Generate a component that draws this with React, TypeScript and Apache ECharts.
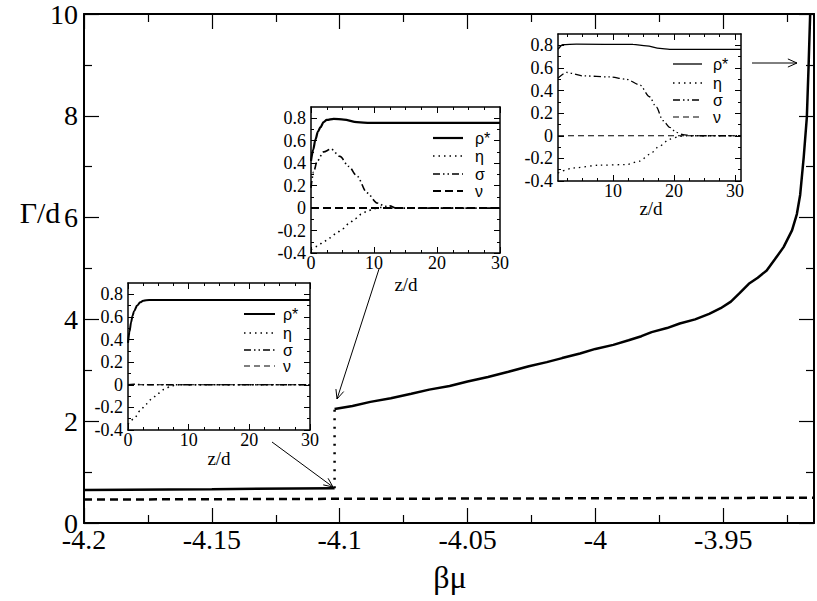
import React, { useEffect, useRef } from 'react';
import * as echarts from 'echarts';

// ---------- main plot data ----------
const MAIN_X_MAJOR = [-4.2, -4.15, -4.1, -4.05, -4, -3.95];
const MAIN_X_MINOR = [-4.175, -4.125, -4.075, -4.025, -3.975, -3.925];
const MAIN_Y_MAJOR = [0, 2, 4, 6, 8, 10];
const MAIN_Y_MINOR = [1, 3, 5, 7, 9];

const lowBranchMu = [-4.2, -4.15, -4.102];
const lowBranchG = [0.65, 0.665, 0.685];

const jumpMu = [-4.102, -4.102];
const jumpG = [0.685, 2.24];

const highBranchMu = [
  -4.102, -4.095, -4.088, -4.08, -4.072, -4.065, -4.057, -4.05, -4.042, -4.034,
  -4.026, -4.019, -4.013, -4.006, -4.0, -3.993, -3.987, -3.982, -3.978, -3.972,
  -3.967, -3.961, -3.9555, -3.951, -3.947, -3.9435, -3.94, -3.9365, -3.933, -3.9298,
  -3.9264, -3.9231, -3.9212, -3.9199, -3.9185, -3.9173, -3.9166, -3.916,
];
const highBranchG = [
  2.24, 2.3, 2.38, 2.45, 2.54, 2.62, 2.69, 2.78, 2.87, 2.97,
  3.08, 3.16, 3.24, 3.33, 3.42, 3.5, 3.59, 3.67, 3.75, 3.83,
  3.92, 4.0, 4.11, 4.22, 4.35, 4.52, 4.7, 4.82, 4.96, 5.18,
  5.42, 5.75, 6.07, 6.45, 7.2, 7.97, 9.0, 10,
];

const dashedMu = [-4.2, -4.1, -4.0, -3.9145];
const dashedG = [0.46, 0.475, 0.485, 0.497];

// ---------- inset axes ----------
const INSET_Y_MAJOR = [-0.4, -0.2, 0, 0.2, 0.4, 0.6, 0.8];
const INSET_Y_MINOR = [-0.3, -0.1, 0.1, 0.3, 0.5, 0.7];
const INSET_X_MAJOR = [0, 10, 20, 30];
const INSET_X_MINOR = [2.5, 5, 7.5, 12.5, 15, 17.5, 22.5, 25, 27.5];

// ---------- inset 1 (low branch) ----------
const in1RhoZ = [0, 0.25, 0.5, 0.75, 1, 1.5, 2, 2.5, 3, 4, 30];
const in1Rho = [0.37, 0.47, 0.55, 0.61, 0.65, 0.7, 0.73, 0.742, 0.748, 0.75, 0.75];
const in1EtaZ = [0, 1, 2, 3, 4, 5, 6, 7, 8, 30];
const in1Eta = [-0.35, -0.3, -0.23, -0.17, -0.12, -0.075, -0.04, -0.015, 0, 0];
const in1SigZ = [0, 1, 3, 30];
const in1Sig = [0, 0.004, 0, 0];
const in1NuZ = [0, 30];
const in1Nu = [0, 0];

// ---------- inset 2 (just after jump) ----------
const in2RhoZ = [0, 0.35, 0.7, 1.1, 1.5, 2, 2.5, 3.6, 5.2, 7.3, 9.4, 30];
const in2Rho = [0.42, 0.52, 0.61, 0.68, 0.72, 0.765, 0.785, 0.795, 0.788, 0.765, 0.758, 0.758];
const in2SigZ = [0, 0.4, 1, 2, 3.2, 4.6, 6, 7.3, 8.9, 10.5, 11.8, 12.5, 13.5, 30];
const in2Sig = [0.18, 0.32, 0.42, 0.5, 0.525, 0.46, 0.37, 0.285, 0.135, 0.045, 0.015, 0.02, 0, 0];
const in2EtaZ = [0, 1, 2, 3, 4, 5, 6, 7, 8, 9, 10, 11, 12, 30];
const in2Eta = [-0.37, -0.34, -0.3, -0.265, -0.225, -0.185, -0.14, -0.095, -0.055, -0.025, -0.005, 0.005, 0, 0];
const in2NuZ = [0, 30];
const in2Nu = [0, 0];

// ---------- inset 3 (near divergence) ----------
const in3RhoZ = [1, 1.8, 4, 13.3, 15.5, 17.7, 19.3, 31];
const in3Rho = [0.764, 0.805, 0.81, 0.808, 0.795, 0.772, 0.764, 0.764];
const in3SigZ = [1, 2.4, 5.1, 9.5, 12.2, 14.4, 16, 17.1, 18.2, 19.3, 20.4, 21.5, 22.8, 31];
const in3Sig = [0.51, 0.56, 0.53, 0.52, 0.5, 0.45, 0.345, 0.255, 0.135, 0.075, 0.03, 0.01, 0, 0];
const in3EtaZ = [1, 3.5, 7.8, 12.2, 14.4, 16, 17.7, 19.3, 21, 22.5, 31];
const in3Eta = [-0.33, -0.285, -0.26, -0.255, -0.225, -0.165, -0.09, -0.03, -0.006, 0, 0];
const in3NuZ = [1, 31];
const in3Nu = [0, 0];

const LEGEND_NAMES = ['ρ*', 'η', 'σ', 'ν'];

const AXIS_FONT = 'serif';
const TITLE_FONT = 'Times New Roman';
const SANS = 'Liberation Sans';

const DOT = [1.5, 4];
const DASHDOTDOT = [7, 3, 1.5, 3, 1.5, 3];
const DASH = [6, 4];

const zip = (a: number[], b: number[]) => a.map((v, i) => [v, b[i]]);

const AX_PER_GRID = 5;

function axesFor(grid: number, c: any) {
  const line = { show: true, onZero: false, lineStyle: { color: '#000', width: c.lw } };
  const noLine = { show: false, onZero: false };
  const noTick = { show: false };
  const tick = (vals: number[], len: number) => ({
    show: true, inside: true, length: len, customValues: vals,
    lineStyle: { color: '#000', width: c.tw },
  });
  const label = (keep: number[], margin: number) => ({
    show: true, margin, fontFamily: AXIS_FONT, fontSize: c.fs, color: '#000',
    formatter: (v: number) => (keep.some((k) => Math.abs(k - v) < 1e-9) ? String(v) : ''),
  });
  const noLabel = { show: false };
  const base = { type: 'value', gridIndex: grid, splitLine: { show: false } };
  const xb = { ...base, min: c.xMin, max: c.xMax };
  const yb = { ...base, min: c.yMin, max: c.yMax };
  const xs = [
    { ...xb, interval: c.xStep, position: 'bottom', axisLine: line, axisTick: noTick, axisLabel: label(c.xMajor, c.xMargin) },
    { ...xb, position: 'bottom', axisLine: noLine, axisTick: tick(c.xMajor, c.tMaj), axisLabel: noLabel },
    { ...xb, position: 'bottom', axisLine: noLine, axisTick: tick(c.xMinor, c.tMin), axisLabel: noLabel },
    { ...xb, position: 'top', axisLine: line, axisTick: tick(c.xMajor, c.tMaj), axisLabel: noLabel },
    { ...xb, position: 'top', axisLine: noLine, axisTick: tick(c.xMinor, c.tMin), axisLabel: noLabel },
  ];
  const ys = [
    { ...yb, interval: c.yStep, position: 'left', axisLine: line, axisTick: noTick, axisLabel: label(c.yMajor, c.yMargin) },
    { ...yb, position: 'left', axisLine: noLine, axisTick: tick(c.yMajor, c.tMaj), axisLabel: noLabel },
    { ...yb, position: 'left', axisLine: noLine, axisTick: tick(c.yMinor, c.tMin), axisLabel: noLabel },
    { ...yb, position: 'right', axisLine: line, axisTick: tick(c.yMajor, c.tMaj), axisLabel: noLabel },
    { ...yb, position: 'right', axisLine: noLine, axisTick: tick(c.yMinor, c.tMin), axisLabel: noLabel },
  ];
  return { xs, ys };
}

function lineSeries(grid: number, data: number[][], width: number, type: any, smooth: number | boolean) {
  const idx = grid * AX_PER_GRID;
  return {
    type: 'line', xAxisIndex: idx, yAxisIndex: idx, data, symbol: 'none', showSymbol: false,
    smooth, smoothMonotone: 'x', silent: true, animation: false,
    lineStyle: { color: '#000', width, type, cap: 'butt' },
  };
}

function arrow(x1: number, y1: number, x2: number, y2: number) {
  const ang = Math.atan2(y2 - y1, x2 - x1);
  const L = 10, a = 0.42;
  const p1 = [x2 - L * Math.cos(ang - a), y2 - L * Math.sin(ang - a)];
  const p2 = [x2 - L * Math.cos(ang + a), y2 - L * Math.sin(ang + a)];
  return [
    { type: 'line', z: 100, shape: { x1, y1, x2, y2 }, style: { stroke: '#000', lineWidth: 1 } },
    { type: 'polyline', z: 100, shape: { points: [p1, [x2, y2], p2] }, style: { stroke: '#000', fill: null, lineWidth: 1 } },
  ];
}

function legend(x1: number, x2: number, tx: number, rows: number[], styles: any[], fs: number) {
  const els: any[] = [];
  rows.forEach((y, i) => {
    els.push({
      type: 'line', z: 100, shape: { x1, y1: y, x2, y2: y },
      style: { stroke: '#000', lineWidth: styles[i].w, lineDash: styles[i].dash || null },
    });
    els.push({
      type: 'text', z: 100, x: tx, y,
      style: { text: LEGEND_NAMES[i], fontFamily: SANS, fontSize: fs, fill: '#000', align: 'left', verticalAlign: 'middle' },
    });
  });
  return els;
}

function title(text: string, x: number, y: number, fs: number) {
  return { type: 'text', x, y, style: { text, fontFamily: TITLE_FONT, fontSize: fs, fill: '#000', align: 'center', verticalAlign: 'middle' } };
}

function buildOption() {
  const main = axesFor(0, {
    xMin: -4.2, xMax: -3.9145, xStep: 0.05, yMin: 0, yMax: 10, yStep: 2,
    xMajor: MAIN_X_MAJOR, xMinor: MAIN_X_MINOR, yMajor: MAIN_Y_MAJOR, yMinor: MAIN_Y_MINOR,
    lw: 2, tw: 1.2, tMaj: 15, tMin: 8, fs: 28, xMargin: 2, yMargin: 6,
  });
  const insetCfg = (xMin: number, xMax: number, xStep: number) => ({
    xMin, xMax, xStep, yMin: -0.4, yMax: 0.9, yStep: 0.2,
    xMajor: INSET_X_MAJOR, xMinor: INSET_X_MINOR, yMajor: INSET_Y_MAJOR, yMinor: INSET_Y_MINOR,
    lw: 1.5, tw: 1, tMaj: 6, tMin: 3, fs: 18, xMargin: 1, yMargin: 5,
  });
  const in1 = axesFor(1, insetCfg(0, 30, 10));
  const in2 = axesFor(2, insetCfg(0, 30, 10));
  const in3 = axesFor(3, insetCfg(1, 31, 1));

  const series = [
    lineSeries(0, zip(lowBranchMu, lowBranchG), 2.5, 'solid', false),
    lineSeries(0, zip(jumpMu, jumpG), 2.5, [2, 6.5], false),
    lineSeries(0, zip(highBranchMu, highBranchG), 2.5, 'solid', false),
    lineSeries(0, zip(dashedMu, dashedG), 2.5, [8, 5], false),

    lineSeries(1, zip(in1RhoZ, in1Rho), 2, 'solid', 0.3),
    lineSeries(1, zip(in1EtaZ, in1Eta), 1.5, DOT, 0.3),
    lineSeries(1, zip(in1SigZ, in1Sig), 1.5, DASHDOTDOT, 0.3),
    lineSeries(1, zip(in1NuZ, in1Nu), 1.2, DASH, false),

    lineSeries(2, zip(in2RhoZ, in2Rho), 2.2, 'solid', 0.3),
    lineSeries(2, zip(in2EtaZ, in2Eta), 1.6, DOT, 0.3),
    lineSeries(2, zip(in2SigZ, in2Sig), 1.6, DASHDOTDOT, 0.3),
    lineSeries(2, zip(in2NuZ, in2Nu), 2, [8, 4], false),

    lineSeries(3, zip(in3RhoZ, in3Rho), 1.3, 'solid', 0.3),
    lineSeries(3, zip(in3EtaZ, in3Eta), 1.3, DOT, 0.3),
    lineSeries(3, zip(in3SigZ, in3Sig), 1.3, DASHDOTDOT, 0.3),
    lineSeries(3, zip(in3NuZ, in3Nu), 1.2, DASH, false),
  ];

  const graphic: any[] = [
    title('Γ/d', 40, 212, 30),
    title('βμ', 450, 577, 32),
    title('z/d', 219, 458, 19),
    title('z/d', 406, 284, 19),
    title('z/d', 651, 208, 19),
    ...legend(244, 275, 283, [314, 333, 350, 366], [
      { w: 2 }, { w: 1.5, dash: DOT }, { w: 1.5, dash: DASHDOTDOT }, { w: 1.2, dash: DASH },
    ], 16),
    ...legend(433, 463, 475, [138, 156, 174, 191], [
      { w: 2.2 }, { w: 1.6, dash: DOT }, { w: 1.6, dash: DASHDOTDOT }, { w: 2, dash: [8, 4] },
    ], 16),
    ...legend(673, 702, 713, [64, 83, 100, 117], [
      { w: 1.3 }, { w: 1.3, dash: DOT }, { w: 1.3, dash: DASHDOTDOT }, { w: 1.2, dash: DASH },
    ], 16),
    ...arrow(272, 442, 333, 487),
    ...arrow(379, 269, 337, 399),
    ...arrow(752, 63, 797, 63),
  ];

  return {
    animation: false,
    backgroundColor: '#fff',
    grid: [
      { left: 84, top: 13, width: 730, height: 510 },
      { left: 128, top: 283, width: 182, height: 147 },
      { left: 311, top: 107, width: 189, height: 146 },
      { left: 558, top: 34, width: 183, height: 147 },
    ],
    xAxis: [...main.xs, ...in1.xs, ...in2.xs, ...in3.xs],
    yAxis: [...main.ys, ...in1.ys, ...in2.ys, ...in3.ys],
    series,
    graphic,
  };
}

export default function App() {
  const ref = useRef<HTMLDivElement>(null);
  useEffect(() => {
    document.body.style.margin = '0';
    const chart = echarts.init(ref.current!, null, { renderer: 'svg' });
    chart.setOption(buildOption() as any);
    return () => chart.dispose();
  }, []);
  return <div ref={ref} style={{ width: 817, height: 601 }} />;
}
